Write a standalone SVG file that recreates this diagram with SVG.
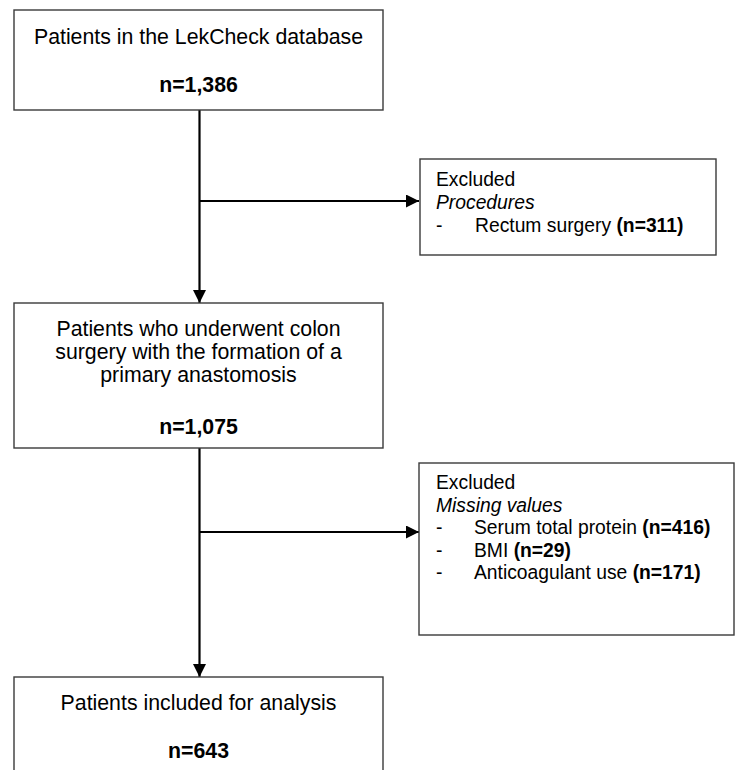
<svg xmlns="http://www.w3.org/2000/svg" width="735" height="770" viewBox="0 0 735 770">
<style>
.box{fill:#fff;stroke:#3a3a3a;stroke-width:1.4}
.t{font-family:"Liberation Sans",Arial,sans-serif;font-size:21.3px;fill:#000}
.s{font-family:"Liberation Sans",Arial,sans-serif;font-size:19.3px;fill:#000}
.b{font-weight:bold}
.i{font-style:italic}
.c{stroke:#000;stroke-width:2.2;fill:none}
</style>
<defs>
<marker id="ah" markerUnits="userSpaceOnUse" markerWidth="14" markerHeight="14" refX="13" refY="6.5" orient="auto">
<path d="M0,0 L13,6.5 L0,13 Z" fill="#000"/>
</marker>
</defs>
<rect width="735" height="770" fill="#fff"/>
<g id="connectors">
<line class="c" x1="199.5" y1="110" x2="199.5" y2="303" marker-end="url(#ah)"/>
<line class="c" x1="199.5" y1="201" x2="419" y2="201" marker-end="url(#ah)"/>
<line class="c" x1="199.5" y1="448" x2="199.5" y2="677" marker-end="url(#ah)"/>
<line class="c" x1="199.5" y1="532" x2="419" y2="532" marker-end="url(#ah)"/>
</g>
<g id="n1">
<rect class="box" x="14" y="10" width="369" height="100"/>
<text class="t" x="198.5" y="44" text-anchor="middle">Patients in the LekCheck database</text>
<text class="t b" x="198.5" y="92" text-anchor="middle">n=1,386</text>
</g>
<g id="x1">
<rect class="box" x="420" y="159" width="296" height="96"/>
<text class="s" x="436" y="186">Excluded</text>
<text class="s i" x="436" y="209">Procedures</text>
<text class="s" x="436" y="232">-</text>
<text class="s" x="475" y="232">Rectum surgery <tspan class="b">(n=311)</tspan></text>
</g>
<g id="n2">
<rect class="box" x="14" y="303" width="369" height="145"/>
<text class="t" x="198.5" y="336" text-anchor="middle">Patients who underwent colon</text>
<text class="t" x="198.5" y="359" text-anchor="middle">surgery with the formation of a</text>
<text class="t" x="198.5" y="382" text-anchor="middle">primary anastomosis</text>
<text class="t b" x="198.5" y="434" text-anchor="middle">n=1,075</text>
</g>
<g id="x2">
<rect class="box" x="419" y="463" width="315" height="172"/>
<text class="s" x="436" y="489">Excluded</text>
<text class="s i" x="436" y="511.5">Missing values</text>
<text class="s" x="436" y="534">-</text>
<text class="s" x="474" y="534">Serum total protein <tspan class="b">(n=416)</tspan></text>
<text class="s" x="436" y="556.5">-</text>
<text class="s" x="474" y="556.5">BMI <tspan class="b">(n=29)</tspan></text>
<text class="s" x="436" y="579">-</text>
<text class="s" x="474" y="579">Anticoagulant use <tspan class="b">(n=171)</tspan></text>
</g>
<g id="n3">
<rect class="box" x="14" y="677" width="369" height="110"/>
<text class="t" x="198.5" y="710" text-anchor="middle">Patients included for analysis</text>
<text class="t b" x="198.5" y="758" text-anchor="middle">n=643</text>
</g>
</svg>
